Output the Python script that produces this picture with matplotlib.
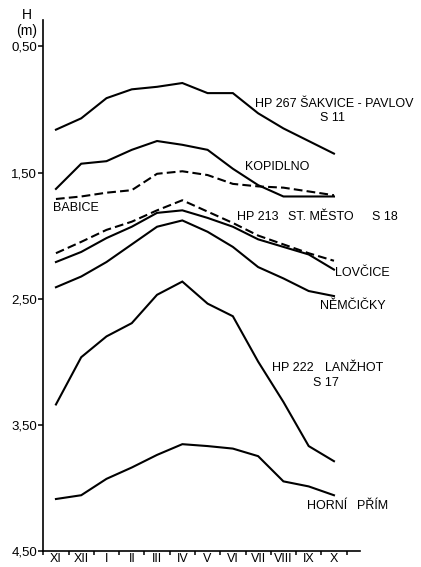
import matplotlib.pyplot as plt
import numpy as np

plt.rcParams['font.family'] = ['Liberation Sans', 'DejaVu Sans']

# Měsíce hydrologického roku
months = ['XI', 'XII', 'I', 'II', 'III', 'IV', 'V', 'VI', 'VII', 'VIII', 'IX', 'X']

# Hloubka hladiny podzemní vody H (m)
sakvice = [1.16, 1.07, 0.91, 0.84, 0.82, 0.79, 0.87, 0.87, 1.03, 1.15, 1.25, 1.35]
kopidlno = [1.63, 1.43, 1.41, 1.32, 1.25, 1.28, 1.32, 1.47, 1.60, 1.69, 1.69, 1.69]
babice = [1.71, 1.69, 1.66, 1.64, 1.51, 1.49, 1.52, 1.59, 1.61, 1.62, 1.65, 1.68]
st_mesto = [2.14, 2.05, 1.955, 1.89, 1.80, 1.72, 1.81, 1.90, 2.00, 2.07, 2.14, 2.20]
lovcice = [2.21, 2.13, 2.02, 1.93, 1.82, 1.80, 1.86, 1.93, 2.03, 2.09, 2.15, 2.27]
nemcicky = [2.41, 2.325, 2.21, 2.07, 1.93, 1.88, 1.97, 2.09, 2.25, 2.34, 2.44, 2.48]
lanzhot = [3.34, 2.965, 2.80, 2.695, 2.47, 2.365, 2.54, 2.64, 3.00, 3.32, 3.67, 3.79]
horni_prim = [4.09, 4.06, 3.93, 3.84, 3.74, 3.655, 3.67, 3.69, 3.75, 3.95, 3.99, 4.06]

y_ticks = [0.5, 1.5, 2.5, 3.5, 4.5]
y_tick_labels = ['0,50', '1,50', '2,50', '3,50', '4,50']

W, H_px = 421, 567
fig = plt.figure(figsize=(W / 100, H_px / 100), dpi=100)
ax = fig.add_axes([43.3 / W, 1 - 550.7 / H_px, (360 - 43.3) / W, (550.7 - 20) / H_px])

x = np.arange(len(months))
solid = dict(color='black', lw=1.5, solid_joinstyle='miter')
dashed = dict(color='black', lw=1.5, linestyle=(0, (4.2, 2.0)))

ax.plot(x, sakvice, **solid)
ax.plot(x, kopidlno, **solid)
ax.plot(x, babice, **dashed)
ax.plot(x, st_mesto, **dashed)
ax.plot(x, lovcice, **solid)
ax.plot(x, nemcicky, **solid)
ax.plot(x, lanzhot, **solid)
ax.plot(x, horni_prim, **solid)

ax.set_xlim(-0.5, 12.03)
ax.set_ylim(4.5, 0.29)

# popisky měsíců mezi značkami
ax.set_xticks(x)
ax.set_xticklabels(months, fontsize=9)
ax.tick_params(axis='x', which='major', length=0, pad=2)
ax.set_xticks(np.arange(-0.5, 12.0, 1.0), minor=True)
ax.tick_params(axis='x', which='minor', length=3, width=1.1, direction='out')

ax.set_yticks(y_ticks)
ax.set_yticklabels(y_tick_labels, fontsize=9.5)
ax.tick_params(axis='y', length=3.5, width=1.1, direction='out', pad=1)

for s in ['top', 'right']:
    ax.spines[s].set_visible(False)
for s in ['left', 'bottom']:
    ax.spines[s].set_linewidth(1.2)

# popisky křivek
def px(xp, yp):
    return (xp - 56) / 25.28, 0.5 + (yp - 46.7) / 126

lab = dict(fontsize=9, color='black', va='center')
ax.text(*px(255, 104), 'HP 267 ŠAKVICE - PAVLOV', ha='left', **lab)
ax.text(*px(333, 118), 'S 11', ha='center', **lab)
ax.text(*px(245, 167), 'KOPIDLNO', ha='left', **lab)
ax.text(*px(53, 208), 'BABICE', ha='left', **lab)
ax.text(*px(237, 217), 'HP 213', ha='left', **lab)
ax.text(*px(288, 217), 'ST. MĚSTO', ha='left', **lab)
ax.text(*px(372, 217), 'S 18', ha='left', **lab)
ax.text(*px(335, 273), 'LOVČICE', ha='left', **lab)
ax.text(*px(320, 306), 'NĚMČIČKY', ha='left', **lab)
ax.text(*px(272, 368), 'HP 222', ha='left', **lab)
ax.text(*px(325, 368), 'LANŽHOT', ha='left', **lab)
ax.text(*px(313, 383), 'S 17', ha='left', **lab)
ax.text(*px(307, 506), 'HORNÍ', ha='left', **lab)
ax.text(*px(357, 506), 'PŘÍM', ha='left', **lab)

fig.text(27 / W, 1 - 15 / H_px, 'H', fontsize=10, ha='center', va='center')
fig.text(27 / W, 1 - 31 / H_px, '(m)', fontsize=10, ha='center', va='center')

fig.savefig('out.png', dpi=100)
